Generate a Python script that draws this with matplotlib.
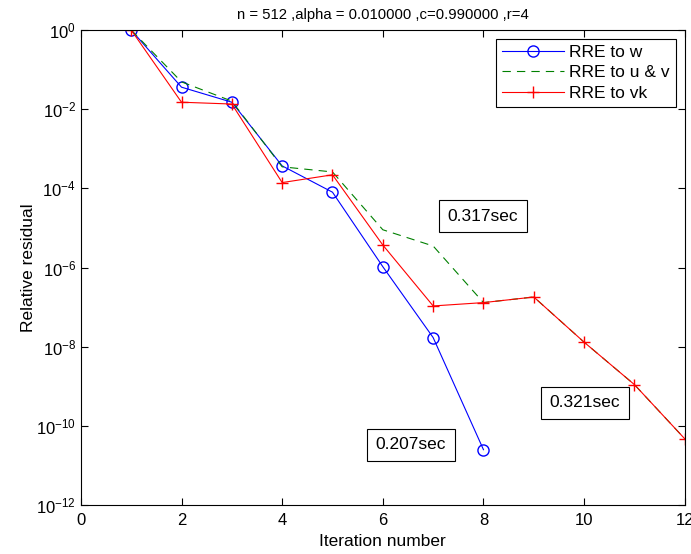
import matplotlib
matplotlib.use("Agg")
import matplotlib.pyplot as plt

plt.rcParams['font.family'] = ['Liberation Sans', 'DejaVu Sans']

iters_w = [1, 2, 3, 4, 5, 6, 7, 8]
res_w = [1.0, 3.6e-2, 1.5e-2, 3.7e-4, 8.0e-5, 1.05e-6, 1.7e-8, 2.5e-11]

iters_uv = [1, 2, 3, 4, 5, 6, 7, 8, 9, 10, 11, 12]
res_uv = [1.0, 4.9e-2, 1.6e-2, 3.5e-4, 2.6e-4, 9.0e-6, 3.5e-6, 1.3e-7,
          1.8e-7, 1.3e-8, 1.1e-9, 4.7e-11]

iters_vk = [1, 2, 3, 4, 5, 6, 7, 8, 9, 10, 11, 12]
res_vk = [1.0, 1.5e-2, 1.35e-2, 1.4e-4, 2.2e-4, 3.7e-6, 1.07e-7, 1.3e-7,
          1.8e-7, 1.3e-8, 1.1e-9, 4.7e-11]

times = ["0.317sec", "0.321sec", "0.207sec"]
time_pos = [(7.99, 10**-4.7), (10.01, 10**-9.42), (6.56, 10**-10.48)]

fig = plt.figure(figsize=(6.91, 5.54), dpi=100)
ax = fig.add_axes([0.117, 0.0884, 0.874, 0.8574])

ax.semilogy(iters_w, res_w, color='blue', marker='o', mfc='none',
            markersize=8, lw=0.8, label='RRE to w')
ax.semilogy(iters_uv, res_uv, color='green', ls=(0, (7.5, 5.5)), lw=0.8,
            label='RRE to u & v')
ax.semilogy(iters_vk, res_vk, color='red', marker='+', markersize=9,
            lw=0.8, label='RRE to vk')

ax.set_xlim(0, 12)
ax.set_ylim(1e-12, 1)
ax.set_xticks(range(0, 13, 2))
ax.set_yticks([10.0**k for k in range(-12, 1, 2)])
ax.minorticks_off()
ax.tick_params(direction='in', top=True, right=True, labelsize=12, length=5)
ax.tick_params(axis='x', pad=6)

ax.set_xlabel('Iteration number', fontsize=12.5, labelpad=4)
ax.set_ylabel('Relative residual', fontsize=12.5, labelpad=0)
ax.set_title('n = 512 ,alpha = 0.010000 ,c=0.990000 ,r=4', fontsize=10.7, pad=8)

for t, (x, y) in zip(times, time_pos):
    ax.text(x, y, t, fontsize=12.5, ha='center', va='center',
            bbox=dict(boxstyle='square,pad=0.5', fc='white', ec='black', lw=0.8))

leg = ax.legend(loc='upper right', fontsize=12.5, fancybox=False, framealpha=1,
                edgecolor='black', borderaxespad=0.5, handlelength=3.6,
                labelspacing=0.3, borderpad=0.35, handletextpad=0.3)
leg.get_frame().set_linewidth(0.8)

fig.savefig('out.png', dpi=100)
